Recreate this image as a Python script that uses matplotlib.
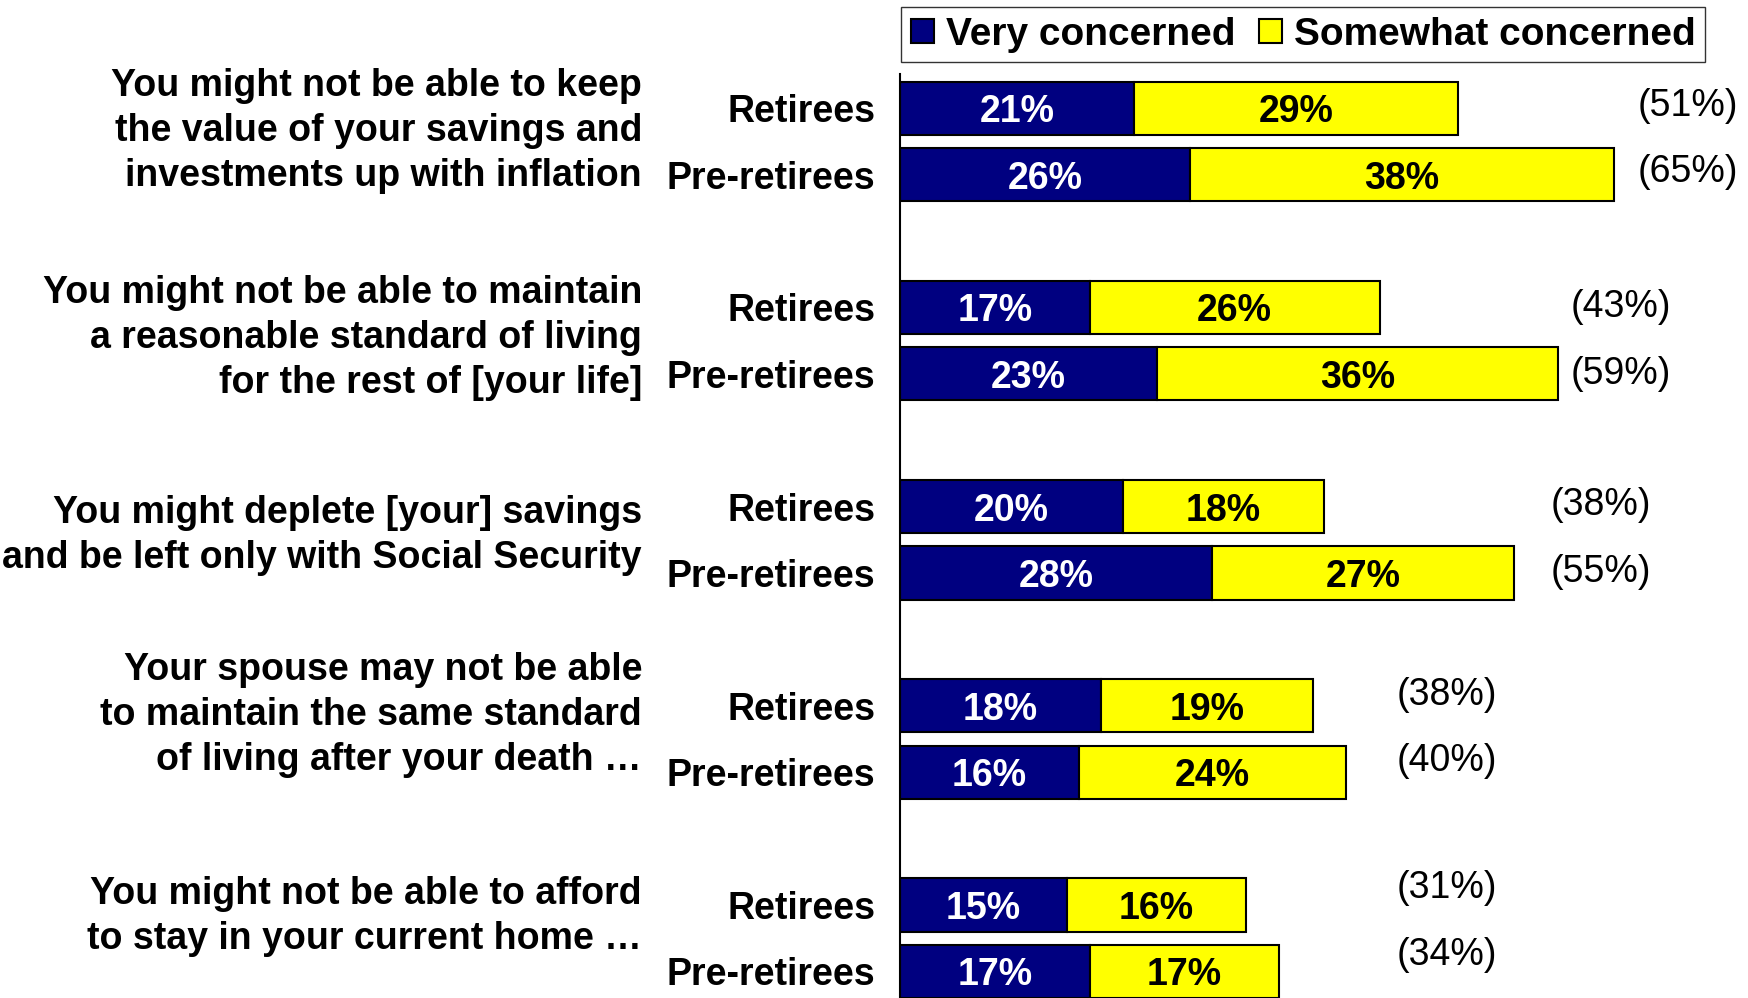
import matplotlib.pyplot as plt
import matplotlib.transforms as mtransforms

plt.rcParams['font.family'] = ['Liberation Sans', 'DejaVu Sans']

questions = [
    "You might not be able to keep\nthe value of your savings and\ninvestments up with inflation",
    "You might not be able to maintain\na reasonable standard of living\nfor the rest of [your life]",
    "You might deplete [your] savings\nand be left only with Social Security",
    "Your spouse may not be able\nto maintain the same standard\nof living after your death \u2026",
    "You might not be able to afford\nto stay in your current home \u2026",
]
groups = ["Retirees", "Pre-retirees"]

# very / somewhat concerned, retirees then pre-retirees per question
very_ret = [21, 17, 20, 18, 15]
very_pre = [26, 23, 28, 16, 17]
some_ret = [29, 26, 18, 19, 16]
some_pre = [38, 36, 27, 24, 17]
total_ret = ["(51%)", "(43%)", "(38%)", "(38%)", "(31%)"]
total_pre = ["(65%)", "(59%)", "(55%)", "(40%)", "(34%)"]

navy = "#000080"
yellow = "#FFFF00"
fs = 27

fig = plt.figure(figsize=(17.48, 9.98), dpi=100)
ax = fig.add_axes([900 / 1748, 0, 1 - 900 / 1748, 1 - 74 / 998])

ypos, very, some, ticks = [], [], [], []
for i in range(len(questions)):
    ypos += [3 * i, 3 * i + 1]
    very += [very_ret[i], very_pre[i]]
    some += [some_ret[i], some_pre[i]]
    ticks += groups

b1 = ax.barh(ypos, very, height=0.8, color=navy, edgecolor="black", linewidth=1.5,
             label="Very concerned")
b2 = ax.barh(ypos, some, left=very, height=0.8, color=yellow, edgecolor="black",
             linewidth=1.5, label="Somewhat concerned")
lab1 = ax.bar_label(b1, labels=[f"{v}%" for v in very], label_type="center",
                    color="white", fontsize=fs, fontweight="bold")
lab2 = ax.bar_label(b2, labels=[f"{v}%" for v in some], label_type="center",
                    color="black", fontsize=fs, fontweight="bold")
for t in lab1 + lab2:
    t.set_va("center_baseline")

ax.set_xlim(0, 76)
ax.set_ylim(13.40, -0.515)
ax.set_yticks(ypos)
ax.set_yticklabels(ticks, fontsize=fs, fontweight="bold")
ax.tick_params(axis="y", length=0, pad=18)
ax.set_xticks([])
for s in ["top", "right", "bottom"]:
    ax.spines[s].set_visible(False)
ax.spines["left"].set_linewidth(1.5)

# totals placed to the right of the bars
tot_x = [66.1, 60.1, 58.3, 44.5, 44.5]
tot_dy = [-0.04, 0.0, -0.02, -0.17, -0.25]
for i in range(len(questions)):
    ax.text(tot_x[i], 3 * i + tot_dy[i], total_ret[i], fontsize=fs, va="center", ha="left")
    ax.text(tot_x[i], 3 * i + 1 + tot_dy[i], total_pre[i], fontsize=fs, va="center", ha="left")

# question text on the left
trans = mtransforms.blended_transform_factory(fig.transFigure, ax.transData)
q_y = [0.34, 3.46, 6.43, 9.14, 12.17]
for i, q in enumerate(questions):
    ax.text(642 / 1748, q_y[i], q, transform=trans, ha="right", va="center",
            fontsize=fs, fontweight="bold", linespacing=1.32, clip_on=False)

fig.legend(handles=[b1, b2], loc="upper left", bbox_to_anchor=(901 / 1748, 1 - 7 / 998),
           ncol=2, prop={"weight": "bold", "size": 28}, frameon=True,
           fancybox=False, edgecolor="black", handlelength=0.6, handleheight=0.6,
           handletextpad=0.3, columnspacing=0.6, borderpad=0.25, borderaxespad=0)

fig.savefig("out.png", dpi=100)
